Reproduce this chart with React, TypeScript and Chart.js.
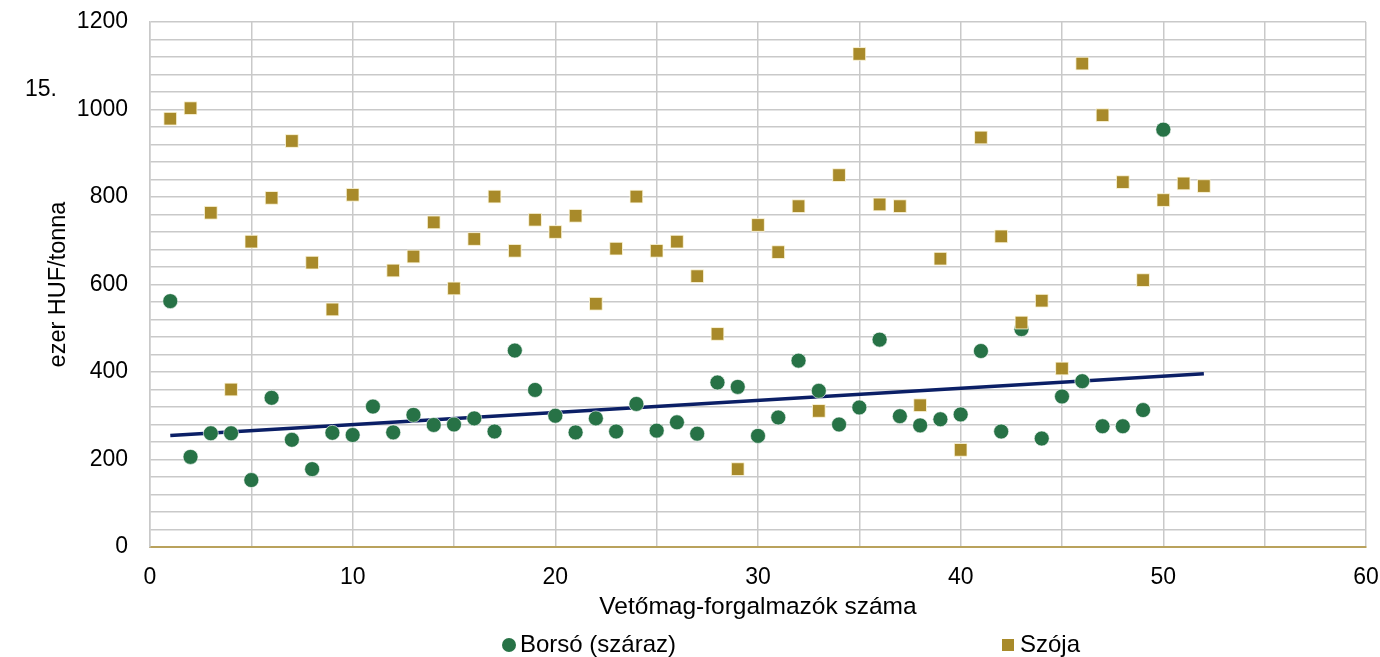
import React, { useEffect, useRef } from 'react';
import { Chart, registerables } from 'chart.js';

Chart.register(...registerables);

// Borsó (száraz) – price by seed distributor #1..50
const borsoY = [
  562, 206, 260, 260, 153, 341, 245, 178, 261, 256,
  321, 262, 302, 279, 280, 294, 264, 449, 359, 300,
  262, 294, 264, 327, 266, 285, 259, 376, 366, 254,
  296, 426, 357, 280, 319, 474, 299, 278, 292, 303,
  448, 264, 498, 248, 344, 379, 276, 276, 313, 954,
];

// Szója – price by seed distributor #1..52 (no value for #11)
const szojaY: (number | null)[] = [
  979, 1003, 764, 360, 698, 798, 928, 650, 543, 805,
  null, 632, 664, 742, 591, 704, 801, 677, 748, 720,
  757, 556, 682, 801, 677, 698, 619, 487, 178, 736,
  674, 779, 311, 850, 1127, 783, 779, 324, 659, 222,
  936, 710, 513, 563, 408, 1105, 987, 834, 610, 793,
  831, 825,
];

// Linear trend line end points
const trendX = [1, 52];
const trendY = [255, 396];

const seriesNames = ['Borsó (száraz)', 'Szója'];
const xTitle = 'Vetőmag-forgalmazók száma';
const yTitle = 'ezer HUF/tonna';
const cornerLabel = '15.';

const GREEN = '#277246';
const GOLD = '#a88a2a';
const NAVY = '#0b1f66';
const GRID = '#c9c9c9';
const FONT = '"Liberation Sans", Arial, sans-serif';

const overlayPlugin = {
  id: 'overlay',
  afterDraw(chart: any) {
    const ctx = chart.ctx as CanvasRenderingContext2D;
    ctx.save();
    ctx.fillStyle = '#000';
    ctx.textBaseline = 'middle';
    ctx.textAlign = 'left';
    ctx.font = `23px ${FONT}`;
    ctx.fillText(cornerLabel, 25, 90);

    // legend
    ctx.font = `24px ${FONT}`;
    const ly = 645;
    ctx.fillStyle = GREEN;
    ctx.beginPath();
    ctx.arc(509, ly, 7, 0, Math.PI * 2);
    ctx.fill();
    ctx.fillStyle = '#000';
    ctx.fillText(seriesNames[0], 520, ly);
    ctx.fillStyle = GOLD;
    ctx.fillRect(1002, ly - 6, 12, 12);
    ctx.fillStyle = '#000';
    ctx.fillText(seriesNames[1], 1020, ly);
    ctx.restore();
  },
};

export default function App() {
  const ref = useRef<HTMLCanvasElement>(null);

  useEffect(() => {
    if (!ref.current) return;
    const chart = new Chart(ref.current, {
      type: 'scatter',
      data: {
        datasets: [
          {
            label: seriesNames[1],
            data: szojaY.map((y, i) => ({ x: i + 1, y })) as any,
            pointStyle: 'rect',
            pointRadius: 9,
            backgroundColor: GOLD,
            borderColor: 'rgba(255,250,225,0.8)',
            borderWidth: 1,
            order: 0,
          },
          {
            label: seriesNames[0],
            data: borsoY.map((y, i) => ({ x: i + 1, y })),
            pointStyle: 'circle',
            pointRadius: 7.5,
            backgroundColor: GREEN,
            borderColor: 'rgba(255,255,255,0.6)',
            borderWidth: 1,
            order: 1,
          },
          {
            type: 'line',
            label: 'trend',
            data: trendX.map((x, i) => ({ x, y: trendY[i] })),
            borderColor: NAVY,
            borderWidth: 3.5,
            pointRadius: 0,
            fill: false,
            order: 2,
          } as any,
        ],
      },
      options: {
        animation: false,
        responsive: true,
        maintainAspectRatio: false,
        layout: { padding: { top: 22, right: 14, left: 0, bottom: 0 } },
        plugins: {
          legend: { display: false },
          tooltip: { enabled: false },
        },
        scales: {
          x: {
            type: 'linear',
            min: 0,
            max: 60,
            afterFit: (s: any) => {
              s.height = 110;
              s.paddingLeft = 0;
              s.paddingRight = 0;
            },
            ticks: {
              stepSize: 5,
              autoSkip: false,
              maxRotation: 0,
              padding: 17,
              color: '#000',
              font: { family: FONT, size: 23 },
              callback: (v: any) => (Number(v) % 10 === 0 ? String(v) : ''),
            },
            grid: { color: GRID, lineWidth: 1.5, drawTicks: false },
            border: { color: '#b9a25c', width: 2 },
            title: {
              display: true,
              text: xTitle,
              color: '#000',
              font: { family: FONT, size: 24.5 },
              padding: { top: 0, bottom: 35 },
            },
          },
          y: {
            type: 'linear',
            min: 0,
            max: 1200,
            afterFit: (s: any) => {
              s.width = 150;
              s.paddingTop = 0;
              s.paddingBottom = 0;
            },
            ticks: {
              stepSize: 40,
              autoSkip: false,
              padding: 22,
              color: '#000',
              font: { family: FONT, size: 23 },
              callback: (v: any) => (Number(v) % 200 === 0 ? String(v) : ''),
            },
            grid: { color: GRID, lineWidth: 1.5, drawTicks: false },
            border: { color: GRID, width: 1.5 },
            title: {
              display: true,
              text: yTitle,
              color: '#000',
              font: { family: FONT, size: 23.5 },
              padding: { top: 44, bottom: 0 },
            },
          },
        },
      },
      plugins: [overlayPlugin],
    });
    return () => chart.destroy();
  }, []);

  return (
    <div style={{ position: 'fixed', left: 0, top: 0, width: 1380, height: 657, background: '#fff' }}>
      <canvas ref={ref} />
    </div>
  );
}
